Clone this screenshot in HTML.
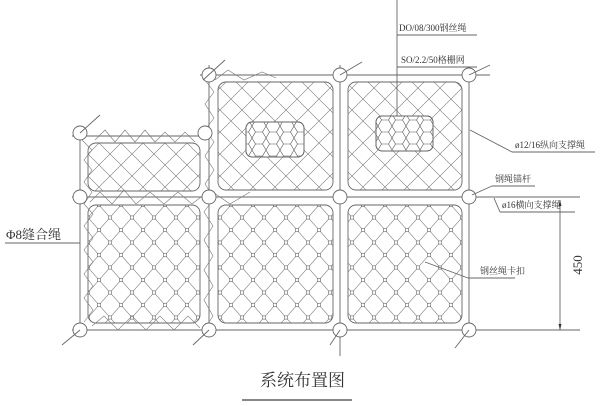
<!DOCTYPE html>
<html><head><meta charset="utf-8"><style>
html,body{margin:0;padding:0;background:#fff;}
svg{display:block;}
text{font-family:"Liberation Serif","Noto Serif CJK SC",serif;fill:#333;}
</style></head><body>
<svg width="600" height="406" viewBox="0 0 600 406" xmlns="http://www.w3.org/2000/svg">
<defs>
<pattern id="diag" x="0" y="0" width="22" height="22" patternUnits="userSpaceOnUse">
<path d="M0,0 L22,22 M22,0 L0,22" stroke="#777" stroke-width="0.6" fill="none"/>
</pattern>
<pattern id="dia" x="88" y="205" width="22" height="25" patternUnits="userSpaceOnUse">
<path d="M0,12.5 L11,0 L22,12.5 L11,25 Z" stroke="#888" stroke-width="0.6" fill="none"/>
<g fill="#fff" stroke="#666" stroke-width="0.6">
<rect x="-1.6" y="10.9" width="3.2" height="3.2"/><rect x="20.4" y="10.9" width="3.2" height="3.2"/>
<rect x="9.4" y="-1.6" width="3.2" height="3.2"/><rect x="9.4" y="23.4" width="3.2" height="3.2"/>
</g>
</pattern>
<pattern id="hex" width="14" height="12" patternUnits="userSpaceOnUse">
<path d="M0,6 L3.5,0 L10.5,0 L14,6 L10.5,12 L3.5,12 Z" stroke="#555" stroke-width="0.6" fill="none"/>
</pattern>
</defs>
<g stroke="#666" stroke-width="0.9" fill="none">
<line x1="200" y1="75" x2="490" y2="75"/>
<line x1="72" y1="136" x2="212" y2="136"/>
<line x1="72" y1="197" x2="580" y2="197"/>
<line x1="72" y1="330" x2="580" y2="330"/>
<line x1="80" y1="133" x2="80" y2="332"/>
<line x1="209" y1="65" x2="209" y2="332"/>
<line x1="340" y1="65" x2="340" y2="356"/>
<line x1="469" y1="68" x2="469" y2="332"/>
<line x1="397" y1="0" x2="397" y2="132"/>
<rect x="88" y="143" width="112" height="48" rx="8" fill="url(#diag)"/>
<rect x="218" y="82" width="115" height="108" rx="8" fill="url(#diag)"/>
<rect x="348" y="82" width="114" height="108" rx="8" fill="url(#diag)"/>
<rect x="88" y="205" width="112" height="118" rx="8" fill="url(#dia)"/>
<rect x="218" y="205" width="115" height="118" rx="8" fill="url(#dia)"/>
<rect x="348" y="205" width="114" height="118" rx="8" fill="url(#dia)"/>
<rect x="246" y="122" width="58" height="35" rx="6" fill="#fff"/>
<rect x="246" y="122" width="58" height="35" rx="6" fill="url(#hex)"/>
<rect x="376" y="116" width="57" height="35" rx="6" fill="#fff"/>
<rect x="376" y="116" width="57" height="35" rx="6" fill="url(#hex)"/>
<g stroke-width="0.6" stroke="#777">
<path d="M82,140 L92,150 L84,160 L92,170 L84,182 L92,192 L84,204 L93,214 L84,226 L93,238 L84,250 L93,262 L84,274 L93,286 L84,298 L93,310 L84,322"/>
<path d="M205,80 L214,92 L205,104 L214,118 L205,130 L214,142 L205,156 L214,170 L205,184 L214,198 L204,212 L213,226 L204,240 L213,256 L204,270 L213,286 L204,300 L213,316 L205,328"/>
<path d="M95,140 L105,130 L115,142 L125,130 L135,142 L145,130 L155,142 L165,132 L175,142 L185,132 L195,142"/>
<path d="M90,202 L100,192 L112,204 L124,190 L136,204 L150,192 L164,204 L178,192 L192,204 L210,190 L230,204 L250,192"/>
<path d="M92,326 L104,316 L118,330 L132,316 L146,330 L160,316 L174,330 L188,316 L200,328"/>
<path d="M215,80 L228,70 L244,80 L262,72 L276,78"/>
</g>
<g fill="#fff">
<circle cx="209" cy="75" r="7"/><circle cx="340" cy="75" r="7"/><circle cx="469" cy="75" r="7"/>
<circle cx="80" cy="133" r="7"/><circle cx="205" cy="133" r="7"/>
<circle cx="80" cy="197" r="7"/><circle cx="209" cy="197" r="7"/><circle cx="340" cy="197" r="7"/><circle cx="469" cy="197" r="7"/>
<circle cx="80" cy="330" r="7"/><circle cx="209" cy="330" r="7"/><circle cx="340" cy="330" r="7"/><circle cx="469" cy="330" r="7"/>
</g>
<line x1="203" y1="80" x2="225" y2="60"/>
<line x1="340" y1="75" x2="362" y2="62"/>
<line x1="469" y1="75" x2="490" y2="65"/>
<line x1="80" y1="133" x2="100" y2="115"/>
<line x1="80" y1="330" x2="62" y2="345"/>
<line x1="209" y1="330" x2="193" y2="345"/>
<line x1="340" y1="330" x2="330" y2="345"/>
<line x1="469" y1="330" x2="455" y2="348"/>
<line x1="397" y1="35" x2="477" y2="35"/>
<line x1="397" y1="67" x2="477" y2="67"/>
<line x1="470" y1="130" x2="512" y2="152"/><line x1="512" y1="152" x2="595" y2="152"/>
<line x1="472" y1="195" x2="492" y2="186"/><line x1="492" y1="186" x2="535" y2="186"/>
<line x1="494" y1="198" x2="500" y2="212"/><line x1="500" y1="212" x2="575" y2="212"/>
<line x1="425" y1="262" x2="468" y2="278"/><line x1="468" y1="278" x2="515" y2="278"/>
<line x1="5" y1="243" x2="80" y2="243"/>
<line x1="560" y1="200" x2="560" y2="330"/>
</g>
<g fill="#333">
<path d="M560,200 l-1.5,6 l3,0 z"/><path d="M560,330 l-1.5,-6 l3,0 z"/>
</g>
<text x="399" y="31" font-size="9">DO/08/300钢丝绳</text>
<text x="401" y="63" font-size="9">SO/2.2/50格栅网</text>
<text x="515" y="148" font-size="9">ø12/16纵向支撑绳</text>
<text x="495" y="182" font-size="9">钢绳锚杆</text>
<text x="502" y="208" font-size="9">ø16横向支撑绳</text>
<text x="480" y="274" font-size="9">钢丝绳卡扣</text>
<text x="6" y="239" font-size="13" font-family="Liberation Sans,Noto Sans CJK SC,sans-serif">Φ8缝合绳</text>
<text transform="translate(582,265) rotate(-90)" font-size="13" font-family="Liberation Sans,sans-serif" text-anchor="middle" fill="#555">450</text>
<text x="260" y="386" font-size="17">系统布置图</text>
<line x1="242" y1="400" x2="352" y2="400" stroke="#888" stroke-width="2"/>
</svg>
</body></html>
